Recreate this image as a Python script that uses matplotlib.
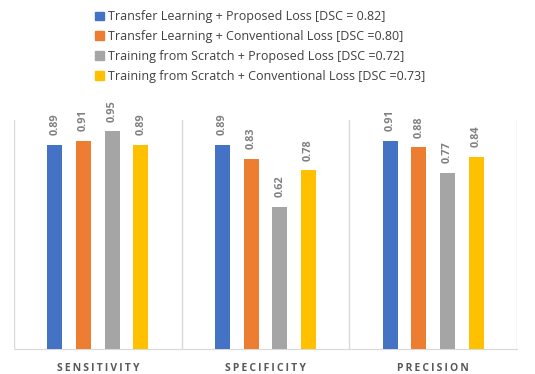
import numpy as np
import matplotlib
matplotlib.use('Agg')
import matplotlib.pyplot as plt
from matplotlib.patches import Patch

# data
categories = ['SENSITIVITY', 'SPECIFICITY', 'PRECISION']
series = ['Transfer Learning + Proposed Loss [DSC = 0.82]',
          'Transfer Learning + Conventional Loss [DSC =0.80]',
          'Training from Scratch + Proposed Loss [DSC =0.72]',
          'Training from Scratch + Conventional Loss [DSC =0.73]']
tl_proposed = [0.89, 0.89, 0.91]
tl_conventional = [0.91, 0.83, 0.88]
scratch_proposed = [0.95, 0.62, 0.77]
scratch_conventional = [0.89, 0.78, 0.84]
colors = ['#4472C4', '#ED7D31', '#A5A5A5', '#FFC000']

plt.rcParams['font.family'] = ['Open Sans', 'DejaVu Sans']

fig = plt.figure(figsize=(5.35, 3.74), dpi=100)
ax = fig.add_axes([14/535, 25/374, 503/535, 229/374])

values = [tl_proposed, tl_conventional, scratch_proposed, scratch_conventional]
x = np.arange(len(categories))
step = 0.171
width = 0.089
for i, vals in enumerate(values):
    pos = x + (i - 1.5) * step
    ax.bar(pos, vals, width=width, color=colors[i], zorder=3)
    for p, v in zip(pos, vals):
        ax.annotate('%.2f' % v, (p, v), xytext=(0, 7), textcoords='offset points',
                    rotation=90, ha='center', va='bottom', fontsize=7.8,
                    fontweight='bold', color='#808080')

ax.set_xlim(-0.5, len(categories) - 0.5)
ax.set_ylim(0, 1.0)
for b in np.arange(-0.5, len(categories), 1.0):
    ax.axvline(b, color='#D9D9D9', lw=1, zorder=1)
for s in ['top', 'left', 'right']:
    ax.spines[s].set_visible(False)
ax.spines['bottom'].set_color('#D9D9D9')
ax.set_yticks([])
ax.set_xticks(x)
ax.set_xticklabels(['\u2009'.join(c) for c in categories], fontsize=7.5,
                   fontweight='bold', color='#595959')
ax.tick_params(axis='x', length=0, pad=10)

handles = [Patch(color=c) for c in colors]
fig.legend(handles, series, loc='upper left', bbox_to_anchor=(84/535, 1 + 1/374),
           frameon=False, fontsize=9, handlelength=0.7, handleheight=0.7,
           handletextpad=0.3, labelspacing=0.55, labelcolor='#404040')

fig.savefig('out.png', dpi=100)
